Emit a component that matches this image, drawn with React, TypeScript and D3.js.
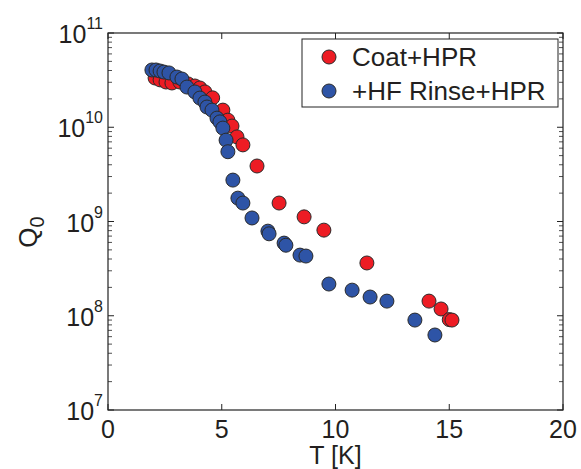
import React from "react";
import * as d3 from "d3";

const redT = [2.07, 2.29, 2.55, 2.81, 3.16, 3.52, 3.82, 4.04, 4.26, 4.6, 5.05, 5.27, 5.45, 5.67, 5.93, 6.55, 7.52, 8.62, 9.49, 11.38, 14.11, 14.64, 15.0, 15.12];
const redQ = [3.33e10, 3.18e10, 3.02e10, 2.95e10, 3.02e10, 2.88e10, 2.74e10, 2.61e10, 2.37e10, 2.05e10, 1.52e10, 1.19e10, 1.03e10, 7.9e9, 6.5e9, 3.88e9, 1.57e9, 1.12e9, 8.1e8, 3.63e8, 1.43e8, 1.18e8, 9.1e7, 9.0e7];

const blueT = [1.93, 2.11, 2.29, 2.46, 2.68, 3.03, 3.25, 3.47, 3.82, 4.04, 4.26, 4.35, 4.57, 4.79, 4.92, 5.05, 5.19, 5.27, 5.49, 5.71, 5.93, 6.33, 7.03, 7.08, 7.74, 7.82, 8.44, 8.7, 9.71, 10.73, 11.52, 12.26, 13.49, 14.37];
const blueQ = [4.05e10, 4.05e10, 3.95e10, 3.85e10, 3.77e10, 3.41e10, 3.25e10, 2.67e10, 2.37e10, 2.04e10, 1.85e10, 1.64e10, 1.52e10, 1.25e10, 1.14e10, 9.8e9, 7.3e9, 5.5e9, 2.75e9, 1.77e9, 1.57e9, 1.09e9, 7.9e8, 7.4e8, 5.9e8, 5.6e8, 4.4e8, 4.3e8, 2.17e8, 1.87e8, 1.58e8, 1.43e8, 9.0e7, 6.25e7];

const xTicks = [0, 5, 10, 15, 20];
const yExps = [7, 8, 9, 10, 11];
const seriesNames = ["Coat+HPR", "+HF Rinse+HPR"];
const seriesColors = ["#ed1c24", "#2e54a6"];

const FONT = "'Liberation Sans', Arial, Helvetica, sans-serif";
const TXT = "#231f20";

export default function App() {
  const L = 108, R = 563, T = 33, B = 410;
  const x = d3.scaleLinear().domain([0, 20]).range([L, R]);
  const y = d3.scaleLog().domain([1e7, 1e11]).range([B, T]);
  const major = 6, minor = 4;

  const minorVals: number[] = [];
  for (let e = 7; e < 11; e++) for (let m = 2; m <= 9; m++) minorVals.push(m * Math.pow(10, e));

  const series = [
    { t: redT, q: redQ, c: seriesColors[0] },
    { t: blueT, q: blueQ, c: seriesColors[1] },
  ];

  return (
    <svg width={581} height={469} style={{ display: "block", position: "absolute", left: 0, top: 0 }}>
      <rect x={0} y={0} width={581} height={469} fill="#fff" />
      {/* ticks */}
      {xTicks.map((v) => (
        <g key={"xt" + v} stroke="#222" strokeWidth={1}>
          <line x1={x(v)} x2={x(v)} y1={B} y2={B - major} />
          <line x1={x(v)} x2={x(v)} y1={T} y2={T + major} />
        </g>
      ))}
      {yExps.map((e) => (
        <g key={"yt" + e} stroke="#222" strokeWidth={1}>
          <line x1={L} x2={L + major} y1={y(Math.pow(10, e))} y2={y(Math.pow(10, e))} />
          <line x1={R} x2={R - major} y1={y(Math.pow(10, e))} y2={y(Math.pow(10, e))} />
        </g>
      ))}
      {minorVals.map((v, i) => (
        <g key={"ym" + i} stroke="#222" strokeWidth={0.8}>
          <line x1={L} x2={L + minor} y1={y(v)} y2={y(v)} />
          <line x1={R} x2={R - minor} y1={y(v)} y2={y(v)} />
        </g>
      ))}
      <rect x={L} y={T} width={R - L} height={B - T} fill="none" stroke="#222" strokeWidth={1.2} />

      {/* tick labels */}
      {xTicks.map((v) => (
        <text key={"xl" + v} x={x(v)} y={438} textAnchor="middle" fontFamily={FONT} fontSize={25} fill={TXT}>
          {v}
        </text>
      ))}
      {yExps.map((e) => (
        <text key={"yl" + e} x={103} y={y(Math.pow(10, e)) + 10} textAnchor="end" fontFamily={FONT} fontSize={25} fill={TXT}>
          10
          <tspan fontSize={16} dy={-14}>{e}</tspan>
        </text>
      ))}

      {/* axis labels */}
      <text x={(L + R) / 2} y={464} textAnchor="middle" fontFamily={FONT} fontSize={25} fill={TXT}>
        T [K]
      </text>
      <text transform="translate(37,232) rotate(-90)" textAnchor="middle" fontFamily={FONT} fontSize={26} fill={TXT}>
        Q<tspan fontSize={20} dy={7}>0</tspan>
      </text>

      {/* data */}
      {series.map((s, si) => (
        <g key={"s" + si}>
          {s.t.map((tv, i) => (
            <circle key={i} cx={x(tv)} cy={y(s.q[i])} r={7} fill={s.c} stroke="#2a2a2a" strokeWidth={1} />
          ))}
        </g>
      ))}

      {/* legend */}
      <rect x={302} y={39} width={256} height={68} fill="#fff" stroke="#222" strokeWidth={1} />
      {seriesNames.map((n, i) => (
        <g key={"lg" + i}>
          <circle cx={329} cy={57 + i * 34} r={7} fill={seriesColors[i]} stroke="#2a2a2a" strokeWidth={1} />
          <text x={352} y={57 + i * 34 + 9} fontFamily={FONT} fontSize={26} fill={TXT}>
            {n}
          </text>
        </g>
      ))}
    </svg>
  );
}
